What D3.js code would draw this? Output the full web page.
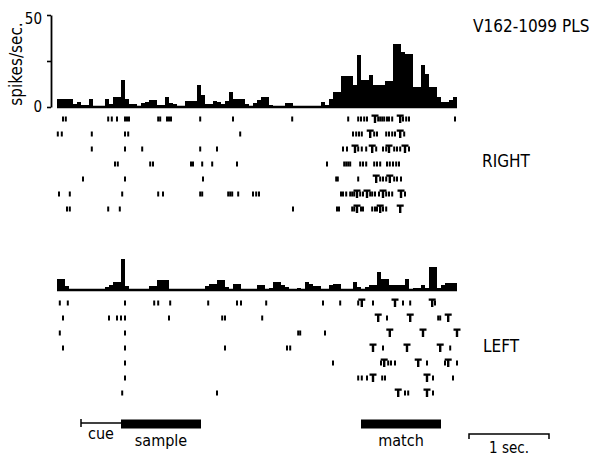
<!DOCTYPE html>
<html>
<head>
<meta charset="utf-8">
<script src="https://cdn.jsdelivr.net/npm/d3@7"></script>
<style>
  body { margin: 0; background: #fff; }
  svg { display: block; }
  text { font-family: "DejaVu Sans Condensed", "DejaVu Sans", sans-serif; font-stretch: condensed; fill: #000; }
</style>
</head>
<body>
<div class="visholder"></div>
<script>
// cell / panel names
const cellName = "V162-1099 PLS";
const panelNames = ["RIGHT", "LEFT"];
const yTicks = [0, 25, 50];

// histogram bins: 50 ms wide, first bin at -800 ms (0 = sample onset)
const binStart = -800, binWidth = 50;

// spikes/sec per bin, RIGHT
const rightRate = [
  4.3, 4.3, 4.3, 4.3, 1.6, 2.7, 1.1, 1.1, 4.3, 0,
  0, 0, 4.3, 1.6, 5.4, 5.4, 14.7, 4.3, 1.6, 1.6,
  0, 2.2, 2.7, 3.8, 3.8, 1.1, 1.1, 5.4, 2.2, 1.6,
  0, 0, 3.3, 3.3, 3.3, 12.0, 6.5, 1.6, 1.6, 3.3,
  2.7, 1.6, 3.3, 8.2, 4.3, 4.3, 4.3, 1.6, 0, 2.2,
  3.8, 5.4, 5.4, 1.1, 0, 0, 0, 2.2, 2.2, 0,
  0, 0, 0, 0, 0, 0, 2.7, 1.1, 4.3, 8.2,
  8.2, 16.8, 16.8, 16.8, 12.0, 28.3, 14.7, 14.7, 17.4, 12.0,
  12.0, 12.0, 14.1, 14.1, 34.2, 34.2, 29.9, 28.8, 28.8, 10.9,
  10.9, 22.8, 17.9, 10.9, 10.9, 5.4, 2.7, 2.7, 3.8, 5.4
];

// spikes/sec per bin, LEFT
const leftRate = [
  6.0, 6.0, 2.2, 0, 0, 0, 0, 0, 0, 0,
  0, 0, 1.6, 2.7, 4.3, 4.3, 16.8, 2.2, 0, 0,
  0, 0, 0, 2.2, 2.2, 5.4, 5.4, 5.4, 0, 0,
  0, 0, 0, 0, 0, 0, 0, 2.2, 3.3, 3.3,
  5.4, 5.4, 1.6, 0, 3.3, 3.3, 0, 0, 0, 0,
  2.7, 2.7, 0, 1.1, 4.3, 4.3, 2.7, 1.6, 0, 0,
  1.1, 0, 4.3, 3.3, 2.2, 2.2, 0, 0, 2.7, 3.3,
  3.3, 0, 0, 0, 4.3, 1.6, 0, 1.6, 2.7, 2.7,
  9.8, 6.0, 6.0, 2.7, 2.7, 2.7, 2.7, 6.0, 0, 1.1,
  1.1, 2.7, 1.1, 12.5, 12.5, 1.1, 2.7, 3.8, 3.8, 3.8
];

// raster spike times (ms), one list per trial
const rightSpikes = [
  [-725, -690, -160, -115, -50, 50, 75, 100, 465, 490, 575, 600, 625, 990, 1400, 2140, 2840, 2965, 3000, 3040, 3075, 3215, 3240, 3265, 3290, 3325, 3350, 3390, 3525, 3565, 3600, 4175],
  [-790, -740, -365, 50, 90, 1490, 2900, 2940, 2975, 3010, 3165, 3200, 3315, 3350, 3390, 3425, 3540],
  [-365, 50, 265, 990, 1200, 2775, 2825, 2965, 3010, 3065, 3190, 3275, 3315, 3415, 3450, 3490, 3600],
  [-75, -40, 365, 400, 875, 900, 1015, 1140, 1450, 2575, 2790, 2815, 2840, 2865, 2990, 3025, 3065, 3165, 3200, 3240, 3325, 3360, 3400, 3440, 3475],
  [-475, 50, 1025, 2690, 2710, 2965, 3240, 3275, 3315, 3415, 3450, 3500],
  [-775, -640, 15, 465, 525, 990, 1015, 1340, 1365, 1390, 1465, 1650, 1690, 1725, 2750, 2775, 2815, 2865, 2890, 2915, 2990, 3025, 3115, 3140, 3175, 3225, 3315, 3350, 3390, 3550],
  [-675, -640, -160, -15, 2150, 2700, 2725, 2890, 2915, 3000, 3025, 3140, 3175, 3200, 3275, 3315]
];
// "T" event marks (ms)
const rightMarks = [
  [3175, 3490],
  [3115, 3490],
  [2925, 3140, 3350, 3550],
  [],
  [3190, 3360],
  [2950, 3075, 3275, 3500],
  [2950, 3240, 3490]
];

const leftSpikes = [
  [-765, -665, 50, 415, 465, 615, 1090, 1450, 1500, 1815, 2525, 2740, 2965, 3150, 3525, 3615, 3925],
  [-725, -150, -50, 0, 50, 600, 1265, 1300, 1765, 3325, 3965, 3990],
  [-765, 50, 2215, 2240, 2550],
  [-725, 50, 1300, 2075, 2115, 3275, 4115],
  [50, 2650, 3250, 3340, 3375, 3425, 3825, 4050, 4200],
  [50, 2965, 3010, 3075, 3265, 3300, 3900, 4150],
  [15, 1200, 3550, 3590, 3900]
];
const leftMarks = [
  [3010, 3425, 3890],
  [3215, 3615, 4090],
  [3360, 3775, 4200],
  [3150, 3575, 3990],
  [3290, 3715, 4090],
  [3150, 3825],
  [3465, 3825]
];

// task epochs (ms)
const epochNames = ["cue", "sample", "match"];
const epochStart = [-500, 0, 3000];
const epochEnd = [0, 1000, 4000];
const scaleBar = [4350, 5350];

const width = 596, height = 457;
let svg = d3.select(".visholder").append("svg")
  .attr("width", width)
  .attr("height", height);

// scales
const x = d3.scaleLinear().domain([-800, 4200]).range([57, 457]);
const yTop = d3.scaleLinear().domain([0, 50]).range([107, 15]);
const yBot = d3.scaleLinear().domain([0, 50]).range([290, 198]);
const rowsTop = d3.scalePoint().domain(d3.range(7)).range([119, 209]);
const rowsBot = d3.scalePoint().domain(d3.range(7)).range([303, 393]);

function histogram(rate, y) {
  let g = svg.append("g");
  g.selectAll("rect").data(rate).join("rect")
    .attr("x", (d, i) => x(binStart + i * binWidth))
    .attr("y", d => y(d))
    .attr("width", x(binWidth) - x(0) + 0.4)
    .attr("height", d => y(0) - y(d))
    .attr("fill", "#000")
    .attr("shape-rendering", "crispEdges");
  // thick baseline
  g.append("line")
    .attr("x1", x(binStart)).attr("x2", x(binStart + rate.length * binWidth))
    .attr("y1", y(0)).attr("y2", y(0))
    .attr("stroke", "#000").attr("stroke-width", 2.4);
}

function raster(spikes, marks, rows) {
  let g = svg.append("g");
  g.selectAll("g.trial").data(spikes).join("g")
    .attr("class", "trial")
    .attr("transform", (d, i) => `translate(0,${rows(i)})`)
    .selectAll("rect").data(d => d).join("rect")
    .attr("x", t => x(t) - 1)
    .attr("y", -2.5)
    .attr("width", 2)
    .attr("height", 5)
    .attr("fill", "#000");
  // T shaped event marks
  g.selectAll("g.marks").data(marks).join("g")
    .attr("class", "marks")
    .attr("transform", (d, i) => `translate(0,${rows(i)})`)
    .selectAll("path").data(d => d).join("path")
    .attr("d", t => `M${x(t) - 3.5},-4.5h7v2.2h-2.3v6.3h-2.4v-6.3h-2.3z`)
    .attr("fill", "#000");
}

histogram(rightRate, yTop);
histogram(leftRate, yBot);
raster(rightSpikes, rightMarks, rowsTop);
raster(leftSpikes, leftMarks, rowsBot);

// y axis of the top histogram
let yAxis = d3.axisLeft(yTop)
  .tickValues(yTicks)
  .tickSize(4)
  .tickSizeOuter(0)
  .tickPadding(5)
  .tickFormat(d => d === 25 ? "" : d);
let axisG = svg.append("g")
  .attr("transform", "translate(51,0)")
  .call(yAxis)
  .attr("font-family", null)
  .attr("font-size", null);
axisG.select(".domain").attr("stroke-width", 1.8);
axisG.selectAll(".tick line").attr("stroke-width", 1.6);
axisG.selectAll(".tick text").style("font-size", "15px").attr("fill", "#000")
  .attr("dy", d => d === 50 ? "0.55em" : "0.3em");

svg.append("text").text("spikes/sec.")
  .attr("transform", "translate(22,64) rotate(-90)")
  .attr("text-anchor", "middle")
  .style("font-size", "17px");

// labels
svg.append("text").text(cellName)
  .attr("x", 473).attr("y", 32)
  .style("font-size", "17px");
svg.append("text").text(panelNames[0])
  .attr("x", 482).attr("y", 167)
  .style("font-size", "17px");
svg.append("text").text(panelNames[1])
  .attr("x", 483).attr("y", 352)
  .style("font-size", "17px");

// task epochs
const barY = 424;
svg.append("line")
  .attr("x1", x(epochStart[0])).attr("x2", x(epochEnd[0]))
  .attr("y1", barY - 1).attr("y2", barY - 1)
  .attr("stroke", "#000").attr("stroke-width", 1.5);
svg.append("line")
  .attr("x1", x(epochStart[0])).attr("x2", x(epochStart[0]))
  .attr("y1", barY - 5).attr("y2", barY + 3)
  .attr("stroke", "#000").attr("stroke-width", 1.5);
svg.selectAll("rect.epoch").data([1, 2]).join("rect")
  .attr("class", "epoch")
  .attr("x", i => x(epochStart[i]))
  .attr("y", barY - 4.5)
  .attr("width", i => x(epochEnd[i]) - x(epochStart[i]))
  .attr("height", 9)
  .attr("fill", "#000");
svg.selectAll("text.epoch").data([0, 1, 2]).join("text")
  .attr("class", "epoch")
  .text(i => epochNames[i])
  .attr("x", i => (x(epochStart[i]) + x(epochEnd[i])) / 2)
  .attr("y", i => i === 0 ? 439 : 446)
  .attr("text-anchor", "middle")
  .style("font-size", "16px");

// 1 sec scale bar
svg.append("path")
  .attr("d", `M${x(scaleBar[0])},439V434H${x(scaleBar[1])}V439`)
  .attr("fill", "none")
  .attr("stroke", "#000")
  .attr("stroke-width", 1.5);
svg.append("text").text("1 sec.")
  .attr("x", (x(scaleBar[0]) + x(scaleBar[1])) / 2)
  .attr("y", 453)
  .attr("text-anchor", "middle")
  .style("font-size", "15px");
</script>
</body>
</html>
